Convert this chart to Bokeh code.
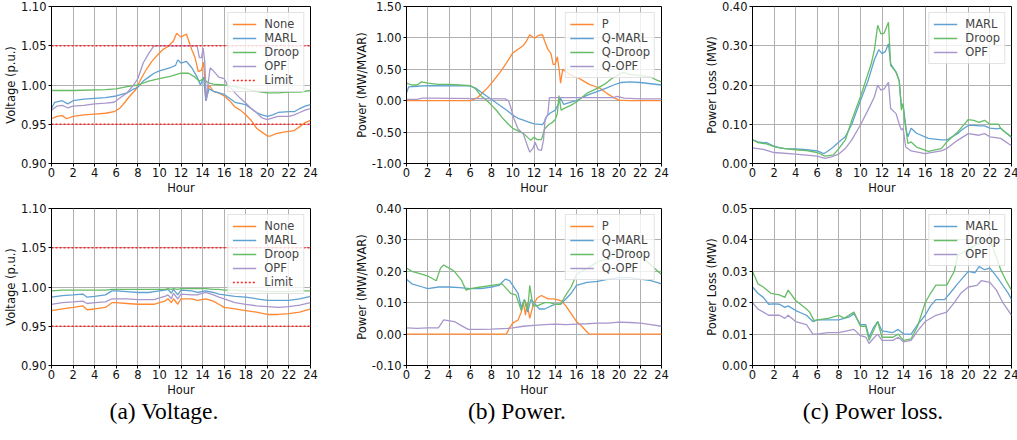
from bokeh.plotting import figure
from bokeh.layouts import column, row
from bokeh.models import Range1d, FixedTicker, NumeralTickFormatter, Legend, LegendItem, Div
from bokeh.embed import file_html
from bokeh.resources import INLINE

# ---------------- data ----------------
hour_ticks = [0, 2, 4, 6, 8, 10, 12, 14, 16, 18, 20, 22, 24]
hour_span = [0, 24]

volt_ticks = [0.90, 0.95, 1.00, 1.05, 1.10]
power1_ticks = [-1.00, -0.50, 0.00, 0.50, 1.00, 1.50]
loss1_ticks = [0.00, 0.10, 0.20, 0.30, 0.40]
power2_ticks = [-0.10, 0.00, 0.10, 0.20, 0.30, 0.40]
loss2_ticks = [0.00, 0.01, 0.02, 0.03, 0.04, 0.05]

limit_low = 0.95
limit_high = 1.05

# (a) voltage, top
v1_none_h = [0, 0.5, 1, 1.4, 2, 3, 4, 5, 5.8, 6.3, 6.8, 7.2, 7.8, 8.3, 8.8, 9.3, 9.8, 10.3, 10.8, 11.3, 11.6, 12, 12.5, 13, 13.3, 13.6, 13.9, 14.1, 14.3, 14.6, 15, 15.5, 16, 16.5, 17, 17.5, 18, 18.5, 19, 19.5, 20, 20.3, 20.8, 21.5, 22, 22.5, 23, 23.5, 24]
v1_none = [.957, .960, .961, .957, .960, .962, .963, .964, .966, .970, .978, .985, .994, 1.008, 1.020, 1.030, 1.038, 1.045, 1.049, 1.056, 1.066, 1.061, 1.065, 1.045, 1.035, 1.017, 1.019, 1.029, .980, 1.000, .992, .990, .986, .980, .972, .968, .962, .955, .945, .940, .935, .935, .938, .940, .941, .942, .947, .952, .955]

v1_marl_h = [0, 0.3, 1, 1.5, 2, 3, 4, 5, 6, 7, 7.5, 8, 8.5, 9, 9.5, 10, 10.5, 11, 11.5, 11.7, 12, 12.5, 13, 13.5, 13.8, 14.1, 14.3, 14.6, 15, 15.5, 16, 16.5, 17, 18, 18.5, 19, 19.5, 20, 20.5, 21, 22, 22.5, 23, 23.5, 24]
v1_marl = [.970, .978, .980, .976, .980, .982, .983, .984, .986, .990, .994, .997, 1.005, 1.010, 1.015, 1.018, 1.020, 1.022, 1.025, 1.032, 1.028, 1.030, 1.022, 1.010, 1.000, 1.010, .980, .995, .992, .990, .988, .983, .978, .975, .970, .965, .962, .960, .962, .965, .966, .966, .970, .973, .975]

v1_droop_h = [0, 2, 5, 6, 7, 8, 9, 10, 11, 12, 12.7, 13.3, 13.7, 14.1, 14.5, 15, 16, 17, 18, 19, 20, 21, 22, 23, 24]
v1_droop = [.993, .993, .994, .995, .998, 1.000, 1.005, 1.008, 1.011, 1.015, 1.015, 1.010, 1.005, 1.008, 1.003, 1.001, 1.000, .998, .995, .992, .990, .990, .991, .991, .993]

v1_opf_h = [0, 0.5, 1, 1.5, 2, 3, 4, 5, 5.8, 6.3, 7, 7.6, 8, 8.5, 9, 9.4, 9.6, 13.5, 13.7, 13.9, 14.05, 14.2, 14.35, 14.5, 14.7, 15, 15.5, 16, 16.3, 16.7, 17, 17.5, 18, 18.5, 19, 19.5, 20, 20.5, 21, 22, 22.5, 23, 23.5, 24]
v1_opf = [.968, .973, .974, .971, .973, .974, .976, .977, .978, .983, .990, 1.000, 1.008, 1.028, 1.040, 1.048, 1.050, 1.050, 1.035, 1.035, 1.047, 1.030, .980, 1.000, 1.022, 1.018, 1.010, 1.008, 1.000, .995, .990, .983, .977, .970, .965, .958, .956, .958, .960, .960, .962, .965, .968, .970]

# (b) power, top
p1_p_h = [0, 6, 6.3, 6.7, 7, 7.6, 8.1, 8.8, 9.4, 10, 10.5, 11, 11.3, 11.6, 11.9, 12.1, 12.4, 12.8, 13, 13.3, 13.6, 13.8, 14.0, 14.2, 14.4, 14.5, 14.7, 15, 15.4, 15.8, 16.1, 16.6, 17.2, 17.7, 18.2, 18.7, 19, 19.5, 20, 21, 22, 23, 24]
p1_p = [0, 0, .02, .05, .10, .20, .30, .45, .60, .76, .82, .88, .95, 1.05, 1.01, 1.00, 1.04, 1.05, .95, .82, .75, .58, .58, .70, .45, .28, .50, .46, .42, .38, .37, .32, .26, .23, .20, .14, .10, .05, .01, 0, 0, 0, 0]

p1_qmarl_h = [0, 0.2, 1, 2, 6, 6.5, 7, 7.5, 8, 8.5, 9, 9.5, 10, 10.5, 11, 11.5, 12, 12.8, 13, 13.2, 13.5, 14, 14.3, 14.5, 14.8, 15.3, 16, 16.5, 17.2, 18, 18.8, 19.5, 20.2, 21, 22, 23, 24]
p1_qmarl = [.12, .22, .23, .24, .235, .20, .14, .08, .02, -.04, -.10, -.16, -.23, -.28, -.31, -.34, -.37, -.38, -.33, -.25, -.20, -.15, -.05, .04, -.06, -.03, 0, .05, .10, .15, .20, .25, .29, .30, .29, .27, .25]

p1_qdroop_h = [0, 0.5, 1, 1.4, 2, 3, 4, 5, 6, 6.5, 7, 7.5, 8, 8.5, 9, 9.5, 10, 10.5, 11, 11.5, 11.7, 12, 12.3, 12.7, 13, 13.4, 13.7, 14, 14.2, 14.35, 14.55, 15, 15.5, 16, 16.5, 17, 18, 18.8, 19.3, 20, 20.4, 21, 22, 23, 23.5, 24]
p1_qdroop = [.28, .25, .25, .30, .28, .26, .26, .25, .24, .19, .08, .01, -.07, -.16, -.27, -.36, -.44, -.48, -.52, -.60, -.63, -.58, -.62, -.62, -.45, -.38, -.35, -.30, -.20, .08, -.15, -.11, -.07, -.02, .05, .12, .20, .28, .35, .42, .45, .42, .40, .38, .33, .30]

p1_qopf_h = [0, 1, 1.5, 2, 9.3, 9.6, 9.8, 10.1, 10.5, 11, 11.3, 11.6, 11.9, 12.1, 12.4, 12.7, 12.9, 13.05, 13.3, 13.45, 19.5, 19.8, 20.5, 22, 24]
p1_qopf = [.02, .02, .04, .04, .03, 0, -.10, -.28, -.45, -.53, -.68, -.82, -.76, -.66, -.78, -.79, -.62, -.29, -.22, .05, .05, .07, .04, .03, .03]

# (c) power loss, top
l1_marl_h = [0, 0.5, 1, 1.3, 2, 2.5, 3, 4, 5, 6, 6.6, 7, 7.5, 8, 8.6, 9.2, 10, 10.7, 11.3, 11.7, 12, 12.3, 12.6, 12.8, 13.3, 13.6, 13.8, 13.95, 14.25, 14.4, 14.7, 15.2, 16.3, 17.5, 18, 19, 19.5, 20, 20.5, 21, 21.5, 22, 22.7, 23, 23.5, 24]
l1_marl = [.060, .055, .053, .053, .044, .040, .038, .037, .035, .032, .025, .032, .042, .055, .068, .100, .160, .210, .265, .290, .280, .285, .305, .254, .233, .210, .145, .150, .085, .068, .090, .077, .064, .060, .060, .076, .088, .097, .097, .096, .096, .090, .088, .090, .078, .066]

l1_droop_h = [0, 0.5, 1.3, 2, 3, 4, 5, 6, 6.7, 7.5, 8, 8.6, 9.2, 10, 10.4, 11, 11.3, 11.6, 11.9, 12.2, 12.6, 12.8, 13.3, 13.6, 13.8, 13.95, 14.1, 14.4, 14.7, 15.2, 16.3, 17.5, 18, 19, 20, 20.5, 21, 21.5, 22, 22.8, 23, 23.5, 24]
l1_droop = [.061, .053, .050, .043, .038, .035, .033, .028, .019, .022, .038, .060, .110, .170, .203, .254, .290, .352, .330, .332, .360, .250, .233, .210, .136, .153, .110, .051, .055, .042, .031, .038, .055, .080, .112, .110, .105, .110, .100, .100, .089, .078, .068]

l1_opf_h = [0, 1, 2, 4, 6, 6.7, 7.3, 8, 8.6, 9.2, 10, 10.7, 11.3, 11.6, 11.9, 12.2, 12.6, 12.8, 13.3, 13.6, 13.8, 13.95, 14.2, 14.7, 16, 17.5, 18, 19, 20, 21, 21.5, 22, 23, 24]
l1_opf = [.040, .036, .028, .024, .019, .013, .017, .024, .038, .060, .098, .136, .170, .200, .187, .190, .207, .140, .127, .100, .085, .090, .042, .032, .025, .032, .038, .059, .076, .072, .076, .068, .064, .045]

# (a) voltage, bottom
v2_h = [0, 1, 2, 2.9, 3.3, 4, 5, 5.6, 6, 7, 8, 9, 9.5, 10, 10.5, 10.8, 11.1, 11.3, 11.7, 12, 13, 13.5, 14.3, 15, 15.5, 16, 17, 18, 19, 20, 21, 22, 23, 24]
v2_none = [.970, .972, .974, .976, .971, .972, .974, .980, .980, .979, .978, .978, .978, .980, .982, .985, .980, .985, .978, .985, .985, .983, .985, .982, .978, .974, .972, .970, .968, .965, .965, .966, .968, .972]
v2_marl = [.987, .989, .990, .991, .987, .988, .990, .995, .995, .994, .993, .993, .994, .995, .996, .997, .992, .997, .990, .996, .995, .993, .995, .993, .991, .990, .988, .987, .985, .983, .983, .983, .985, .988]
v2_droop = [.995, .996, .996, .996, .996, .996, .996, .997, .997, .997, .997, .997, .997, .997, .997, .998, .997, .998, .997, .998, .998, .998, .998, .997, .997, .996, .996, .995, .995, .994, .994, .994, .995, .995]
v2_opf = [.978, .980, .981, .982, .979, .980, .981, .985, .985, .985, .984, .984, .984, .986, .988, .990, .985, .992, .985, .991, .990, .990, .993, .990, .987, .985, .980, .978, .976, .975, .974, .975, .977, .980]

# (b) power, bottom
p2_p_h = [0, 9.4, 9.7, 10, 10.5, 10.8, 11, 11.2, 11.35, 11.6, 11.9, 12.3, 12.7, 13, 13.3, 13.8, 14.2, 14.6, 15, 15.4, 16, 16.5, 16.9, 17.2, 24]
p2_p = [0, 0, .02, .035, .045, .07, .10, .06, .10, .05, .09, .115, .123, .118, .112, .112, .11, .105, .09, .07, .04, .025, .01, 0, 0]

p2_qmarl_h = [0, 0.5, 1.5, 2, 3, 4, 5, 6, 7, 8, 8.7, 9, 9.3, 9.7, 10, 10.5, 10.8, 11.1, 11.4, 11.7, 12, 12.5, 13, 13.5, 14, 14.5, 15, 15.5, 16, 17, 18, 19, 20, 21, 22, 23, 24]
p2_qmarl = [.175, .16, .15, .145, .15, .15, .148, .145, .145, .15, .155, .165, .175, .17, .155, .13, .085, .11, .07, .11, .10, .08, .08, .088, .095, .095, .112, .13, .155, .165, .168, .175, .18, .18, .175, .17, .16]

p2_qdroop_h = [0, 0.5, 1.5, 2, 2.8, 3.2, 3.5, 4, 4.5, 5.2, 5.6, 6, 7, 8, 9, 9.4, 9.8, 10.3, 10.8, 11.1, 11.4, 11.6, 11.9, 12.3, 13, 13.5, 14, 14.5, 15, 15.5, 16, 17, 18, 19, 19.5, 20, 21, 22, 23, 24]
p2_qdroop = [.21, .20, .19, .185, .17, .21, .22, .21, .20, .17, .14, .145, .15, .155, .16, .145, .13, .125, .075, .11, .075, .155, .09, .09, .10, .10, .095, .095, .125, .15, .19, .21, .23, .24, .26, .27, .265, .25, .22, .19]

p2_qopf_h = [0, 1, 2, 3, 3.5, 4.5, 5, 5.8, 7, 8, 9.5, 10, 11, 12, 13, 14, 15, 16, 17, 18, 19, 20, 21, 22, 23, 24]
p2_qopf = [.02, .018, .02, .02, .045, .04, .03, .015, .015, .016, .018, .02, .025, .028, .03, .032, .03, .032, .033, .035, .035, .038, .037, .035, .03, .025]

# (c) power loss, bottom
l2_marl_h = [0, 0.5, 1, 1.5, 2, 2.5, 3, 3.3, 4, 5, 5.6, 6, 7, 8, 9, 9.4, 10, 10.5, 10.8, 11.2, 11.6, 12, 13, 13.5, 14, 14.7, 15.3, 16, 16.5, 17, 17.8, 18.3, 19, 19.5, 20, 20.6, 21, 21.5, 22, 22.7, 23.3, 23.7, 24]
l2_marl = [.025, .023, .0217, .0195, .0196, .0195, .0185, .019, .0175, .016, .014, .0145, .0145, .0145, .0155, .0165, .013, .013, .009, .012, .014, .011, .0105, .0115, .010, .010, .013, .016, .019, .021, .021, .023, .026, .028, .030, .0295, .0315, .0305, .031, .028, .025, .023, .021]

l2_droop_h = [0, 0.5, 1, 1.7, 2.5, 3, 3.3, 4, 5, 5.3, 5.7, 6, 7, 8, 8.5, 9.4, 10, 10.5, 10.8, 11.2, 11.6, 12, 13, 13.5, 14, 14.7, 15.3, 16, 16.5, 17, 18, 18.7, 19, 19.5, 20.5, 21.5, 22, 22.5, 23, 23.5, 24]
l2_droop = [.030, .026, .025, .023, .0225, .0217, .024, .0207, .018, .017, .0143, .0145, .015, .016, .015, .017, .0125, .0125, .008, .011, .014, .009, .009, .010, .008, .0085, .0125, .020, .023, .0256, .0256, .030, .035, .036, .038, .040, .040, .0355, .0305, .027, .024]

l2_opf_h = [0, 0.5, 1, 1.5, 2.5, 3, 3.3, 4, 5, 5.6, 6, 7, 8, 9.4, 10, 10.5, 10.8, 11.3, 11.6, 12, 13, 13.5, 14, 14.7, 15.3, 16, 17, 18, 18.7, 19.3, 20, 20.8, 21.2, 22, 22.6, 23.2, 23.6, 24]
l2_opf = [.020, .018, .017, .016, .016, .015, .016, .014, .013, .010, .010, .0105, .0105, .0115, .0095, .009, .007, .009, .010, .008, .008, .009, .0075, .008, .011, .014, .016, .017, .020, .023, .025, .0255, .027, .0265, .024, .020, .018, .016]

captions = ["(a) Voltage.", "(b) Power.", "(c) Power loss."]

# ---------------- style ----------------
FONT = "DejaVu Sans"
C_ORANGE = "#ff8833"
C_BLUE = "#5fa2d2"
C_GREEN = "#66bd66"
C_PURPLE = "#a897cc"
C_RED = "#ff2020"
LW = 1.3
FS = "11.5px"


def make_fig(fw, fh, yr, yticks, ylabel, bl, br, bt, bb):
    p = figure(frame_width=fw, frame_height=fh, x_range=Range1d(0, 24), y_range=Range1d(*yr),
               output_backend="svg", toolbar_location=None,
               min_border_left=bl, min_border_right=br, min_border_top=bt, min_border_bottom=bb)
    p.xaxis.ticker = FixedTicker(ticks=hour_ticks)
    p.yaxis.ticker = FixedTicker(ticks=yticks)
    p.yaxis.formatter = NumeralTickFormatter(format="0.00")
    p.xaxis.axis_label = "Hour"
    p.yaxis.axis_label = ylabel
    for ax in p.axis:
        ax.major_tick_out = 3
        ax.major_tick_in = 0
        ax.minor_tick_out = 0
        ax.minor_tick_in = 0
        ax.major_label_text_font = FONT
        ax.major_label_text_font_size = FS
        ax.major_label_text_color = "#111111"
        ax.axis_label_text_font = FONT
        ax.axis_label_text_font_size = FS
        ax.axis_label_text_font_style = "normal"
        ax.axis_label_text_color = "#111111"
        ax.axis_line_color = "black"
        ax.major_tick_line_color = "black"
    p.xaxis.major_label_standoff = 1
    p.xaxis.axis_label_standoff = 1
    p.yaxis.major_label_standoff = 2
    p.yaxis.axis_label_standoff = 0
    p.grid.grid_line_color = "#b0b0b0"
    p.grid.grid_line_width = 1
    p.outline_line_color = "black"
    p.outline_line_alpha = 1
    p.outline_line_width = 1
    p.background_fill_color = "white"
    p.border_fill_color = "white"
    return p


def add_legend(p, pairs):
    lg = Legend(items=[LegendItem(label=lab, renderers=[r]) for lab, r in pairs],
                location="top_right", label_text_font=FONT, label_text_font_size=FS,
                glyph_width=24, glyph_height=12, label_height=12, spacing=0, padding=4,
                margin=6, label_standoff=8, border_line_color="#c8c8c8",
                background_fill_alpha=0.8)
    p.add_layout(lg)


def voltage_fig(fw, fh, bl, br, bt, bb, series):
    p = make_fig(fw, fh, (0.90, 1.10), volt_ticks, "Voltage (p.u.)", bl, br, bt, bb)
    rs = []
    for (h, v), c in zip(series, [C_ORANGE, C_BLUE, C_GREEN, C_PURPLE]):
        rs.append(p.line(h, v, line_color=c, line_width=LW))
    r_lim = p.line(hour_span, [limit_high, limit_high], line_color=C_RED, line_width=1.3, line_dash="2 2")
    p.line(hour_span, [limit_low, limit_low], line_color=C_RED, line_width=1.3, line_dash="2 2")
    add_legend(p, list(zip(["None", "MARL", "Droop", "OPF", "Limit"], rs + [r_lim])))
    return p


def power_fig(fw, fh, yr, yticks, bl, br, bt, bb, series):
    p = make_fig(fw, fh, yr, yticks, "Power (MW/MVAR)", bl, br, bt, bb)
    rs = []
    for (h, v), c in zip(series, [C_ORANGE, C_BLUE, C_GREEN, C_PURPLE]):
        rs.append(p.line(h, v, line_color=c, line_width=LW))
    add_legend(p, list(zip(["P", "Q-MARL", "Q-Droop", "Q-OPF"], rs)))
    return p


def loss_fig(fw, fh, yr, yticks, bl, br, bt, bb, series):
    p = make_fig(fw, fh, yr, yticks, "Power Loss (MW)", bl, br, bt, bb)
    rs = []
    for (h, v), c in zip(series, [C_BLUE, C_GREEN, C_PURPLE]):
        rs.append(p.line(h, v, line_color=c, line_width=LW))
    add_legend(p, list(zip(["MARL", "Droop", "OPF"], rs)))
    return p


FH = 157
f1 = voltage_fig(259, FH, 51, 41, 6, 35,
                 [(v1_none_h, v1_none), (v1_marl_h, v1_marl), (v1_droop_h, v1_droop), (v1_opf_h, v1_opf)])
f2 = power_fig(255, FH, (-1.0, 1.5), power1_ticks, 54, 37, 6, 35,
               [(p1_p_h, p1_p), (p1_qmarl_h, p1_qmarl), (p1_qdroop_h, p1_qdroop), (p1_qopf_h, p1_qopf)])
f3 = loss_fig(259, FH, (0.0, 0.4), loss1_ticks, 54, 7, 6, 35,
              [(l1_marl_h, l1_marl), (l1_droop_h, l1_droop), (l1_opf_h, l1_opf)])

f4 = voltage_fig(259, FH, 51, 41, 10, 33,
                 [(v2_h, v2_none), (v2_h, v2_marl), (v2_h, v2_droop), (v2_h, v2_opf)])
f5 = power_fig(255, FH, (-0.1, 0.4), power2_ticks, 54, 37, 10, 33,
               [(p2_p_h, p2_p), (p2_qmarl_h, p2_qmarl), (p2_qdroop_h, p2_qdroop), (p2_qopf_h, p2_qopf)])
f6 = loss_fig(259, FH, (0.0, 0.05), loss2_ticks, 54, 7, 10, 33,
              [(l2_marl_h, l2_marl), (l2_droop_h, l2_droop), (l2_opf_h, l2_opf)])

centers = [164, 517, 873]
spans = "".join(
    f'<span style="position:absolute;left:{c}px;top:0px;transform:translateX(-50%);white-space:nowrap">{t}</span>'
    for t, c in zip(captions, centers))
cap = Div(text=f'<div style="position:relative;width:1010px;height:36px;font-family:\'Liberation Serif\',serif;'
               f'font-size:23.5px;line-height:24px;color:#000">{spans}</div>',
          width=1010, height=38, margin=(0, 0, 0, 0))

layout = column(row(f1, f2, f3), row(f4, f5, f6), cap)

open("out.html", "w").write(file_html(layout, INLINE))
